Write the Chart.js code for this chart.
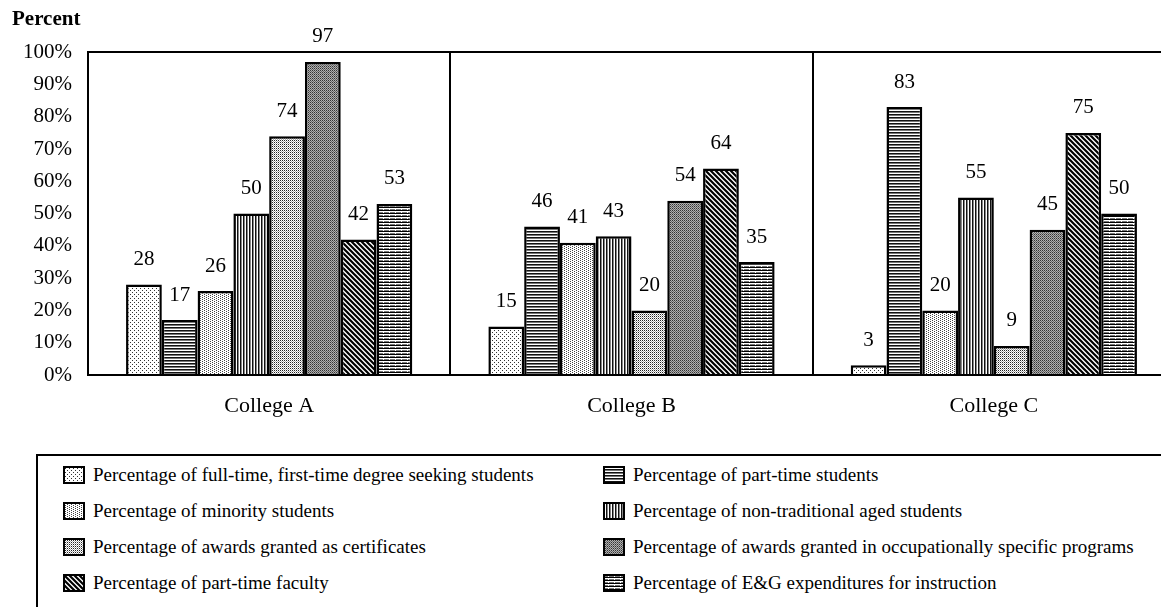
<!DOCTYPE html>
<html><head><meta charset="utf-8">
<script src="https://cdn.jsdelivr.net/npm/chart.js@4.4.0/dist/chart.umd.min.js"></script>
<style>
html,body{margin:0;padding:0;background:#fff;overflow:hidden;width:1161px;height:607px;}
#wrap{position:absolute;left:0;top:0;width:1161px;height:607px;overflow:hidden;background:#fff;}
#c{position:absolute;left:0;top:0;}
#legend{position:absolute;left:36px;top:454px;width:1200px;height:200px;border-left:2px solid #000;border-top:2px solid #000;font-family:"Liberation Serif","Times New Roman",serif;font-size:19px;color:#000;}
.item{position:absolute;display:flex;align-items:center;height:36px;white-space:nowrap;}
.item canvas{margin-right:8px;display:block;}
</style></head>
<body><div id="wrap"><canvas id="c" width="1180" height="440"></canvas><div id="legend"></div></div>
<script>
const categories = ['College A', 'College B', 'College C'];
const seriesNames = [
  'Percentage of full-time, first-time degree seeking students',
  'Percentage of part-time students',
  'Percentage of minority students',
  'Percentage of non-traditional aged students',
  'Percentage of awards granted as certificates',
  'Percentage of awards granted in occupationally specific programs',
  'Percentage of part-time faculty',
  'Percentage of E&G expenditures for instruction'
];
const fullTimeFirstTime = [28, 15, 3];
const partTimeStudents = [17, 46, 83];
const minorityStudents = [26, 41, 20];
const nonTraditionalAged = [50, 43, 55];
const awardsCertificates = [74, 20, 9];
const awardsOccupational = [97, 54, 45];
const partTimeFaculty = [42, 64, 75];
const egInstruction = [53, 35, 50];
const yTickValues = [0, 10, 20, 30, 40, 50, 60, 70, 80, 90, 100];

const seriesValues = [fullTimeFirstTime, partTimeStudents, minorityStudents, nonTraditionalAged,
  awardsCertificates, awardsOccupational, partTimeFaculty, egInstruction];
const patternKinds = ['dotsLight', 'hlines', 'dotsMed', 'vlines', 'dotsDense', 'darkStipple', 'diag', 'dashes'];

function makeTile(kind) {
  const c = document.createElement('canvas');
  const g = c.getContext('2d');
  function px(x, y, col) { g.fillStyle = col; g.fillRect(x, y, 1, 1); }
  if (kind === 'dotsLight') {
    c.width = 4; c.height = 4; g.fillStyle = '#fff'; g.fillRect(0, 0, 4, 4);
    px(0, 0, '#333'); px(2, 2, '#333');
  } else if (kind === 'dotsMed') {
    c.width = 4; c.height = 2; g.fillStyle = '#fff'; g.fillRect(0, 0, 4, 2);
    px(0, 0, '#444'); px(2, 1, '#444');
  } else if (kind === 'dotsDense') {
    c.width = 2; c.height = 2; g.fillStyle = '#fff'; g.fillRect(0, 0, 2, 2);
    px(0, 0, '#222'); px(1, 1, '#aaa');
  } else if (kind === 'hlines') {
    c.width = 4; c.height = 3; g.fillStyle = '#fff'; g.fillRect(0, 0, 4, 3);
    g.fillStyle = '#111'; g.fillRect(0, 0, 4, 1);
    g.fillStyle = '#777'; g.fillRect(0, 1, 4, 1);
  } else if (kind === 'vlines') {
    c.width = 3; c.height = 4; g.fillStyle = '#fff'; g.fillRect(0, 0, 3, 4);
    g.fillStyle = '#111'; g.fillRect(0, 0, 1, 4);
    g.fillStyle = '#888'; g.fillRect(1, 0, 1, 4);
  } else if (kind === 'darkStipple') {
    c.width = 2; c.height = 2; g.fillStyle = '#b0b0b0'; g.fillRect(0, 0, 2, 2);
    px(0, 0, '#333'); px(1, 1, '#666');
  } else if (kind === 'diag') {
    c.width = 5; c.height = 5; g.fillStyle = '#fff'; g.fillRect(0, 0, 5, 5);
    g.strokeStyle = '#000'; g.lineWidth = 2.2;
    g.beginPath();
    g.moveTo(-1, -1); g.lineTo(6, 6);
    g.moveTo(4, -1); g.lineTo(6, 1);
    g.moveTo(-1, 4); g.lineTo(1, 6);
    g.stroke();
  } else if (kind === 'dashes') {
    c.width = 6; c.height = 3; g.fillStyle = '#fff'; g.fillRect(0, 0, 6, 3);
    g.fillStyle = '#000'; g.fillRect(0, 0, 6, 1);
    g.fillStyle = '#777'; g.fillRect(0, 2, 5, 1);
  }
  return c;
}

const canvas = document.getElementById('c');
const ctx = canvas.getContext('2d');
const patterns = patternKinds.map(k => ctx.createPattern(makeTile(k), 'repeat'));

const FONT = '"Liberation Serif", "Times New Roman", serif';

const valueLabels = {
  id: 'valueLabels',
  afterDatasetsDraw(chart) {
    const c = chart.ctx;
    c.save();
    c.font = '21px ' + FONT;
    c.fillStyle = '#000';
    c.textAlign = 'center';
    c.textBaseline = 'middle';
    chart.data.datasets.forEach((ds, i) => {
      chart.getDatasetMeta(i).data.forEach((el, j) => {
        c.fillText(String(ds.data[j]), el.x, el.y - 25);
      });
    });
    c.restore();
  }
};

const chart = new Chart(ctx, {
  type: 'bar',
  data: {
    labels: categories,
    datasets: seriesNames.map((name, i) => ({
      label: name,
      data: seriesValues[i],
      backgroundColor: patterns[i],
      borderColor: '#000',
      borderWidth: 2.5,
      borderSkipped: 'start',
      categoryPercentage: 0.79,
      barPercentage: 1.0
    }))
  },
  options: {
    responsive: false,
    animation: false,
    devicePixelRatio: 1,
    layout: { padding: { left: 12, right: 5, top: 0, bottom: 0 } },
    plugins: {
      legend: { display: false },
      tooltip: { enabled: false },
      title: {
        display: true,
        text: 'Percent',
        align: 'start',
        color: '#000',
        font: { family: FONT, size: 21, weight: 'bold' },
        padding: { top: 7, bottom: 20 }
      }
    },
    scales: {
      x: {
        grid: { display: true, offset: true, color: '#000', lineWidth: 2, drawTicks: false },
        border: { display: true, color: '#000', width: 2 },
        ticks: { color: '#000', font: { family: FONT, size: 22 }, padding: 18 },
        afterFit(scale) { scale.height = 65; }
      },
      y: {
        min: 0, max: 100,
        afterBuildTicks(scale) { scale.ticks = yTickValues.map(v => ({ value: v })); },
        grid: {
          display: true, drawTicks: false, lineWidth: 2,
          color: c => (c.tick && c.tick.value === 100) ? '#000' : 'rgba(0,0,0,0)'
        },
        border: { display: true, color: '#000', width: 2 },
        ticks: { color: '#000', font: { family: FONT, size: 21 }, padding: 16, callback: v => v + '%' },
        afterFit(scale) { scale.width = 76; }
      }
    }
  },
  plugins: [valueLabels]
});

// HTML legend from the datasets (2 columns, row-major)
const legend = document.getElementById('legend');
seriesNames.forEach((name, i) => {
  const row = Math.floor(i / 2), col = i % 2;
  const item = document.createElement('div');
  item.className = 'item';
  item.style.left = (col === 0 ? 25 : 565) + 'px';
  item.style.top = (1 + row * 36) + 'px';
  const sw = document.createElement('canvas');
  sw.width = 22; sw.height = 18;
  const sg = sw.getContext('2d');
  sg.fillStyle = sg.createPattern(makeTile(patternKinds[i]), 'repeat');
  sg.fillRect(0, 0, 22, 18);
  sg.strokeStyle = '#000'; sg.lineWidth = 2;
  sg.strokeRect(1, 1, 20, 16);
  const tx = document.createElement('span');
  tx.textContent = name;
  item.appendChild(sw);
  item.appendChild(tx);
  legend.appendChild(item);
});
</script>
</body></html>
